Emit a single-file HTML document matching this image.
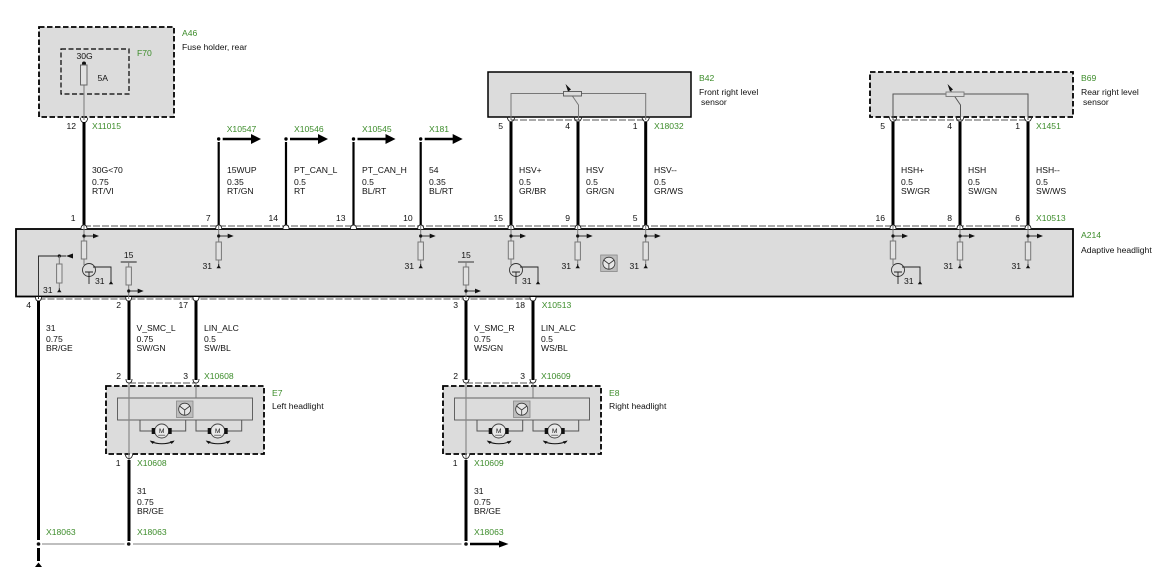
<!DOCTYPE html>
<html><head><meta charset="utf-8"><style>
html,body{margin:0;padding:0;background:#fff}
svg{display:block}
text{font-family:"Liberation Sans",Arial,sans-serif;font-size:8.6px;fill:#111}
.g{fill:#3c8c2a}
.e{text-anchor:end}
.m{text-anchor:middle}
.w{stroke:#000;stroke-width:3;fill:none}
.t{stroke:#777;stroke-width:1;fill:none}
.k{stroke:#222;stroke-width:.9;fill:none}
.d{stroke:#555;stroke-width:.9;stroke-dasharray:7 2;fill:none}
.bd{stroke:#000;stroke-width:1.8;stroke-dasharray:5.5 2.5;fill:#dcdcdc}
</style></head><body>
<svg width="1157" height="576" viewBox="0 0 1157 576" xmlns="http://www.w3.org/2000/svg">
<defs>
<g id="gnd"><path d="M0 -3V-1" stroke="#222" stroke-width=".9"/><path d="M-2.2 1.3L0 -2L2.2 1.3Z" fill="#111"/></g>
<g id="ar"><circle cx="0" cy="0" r="1.6" fill="#111"/><path d="M0 0H10" stroke="#222" stroke-width=".9"/><path d="M9 -2.4L15 0L9 2.4Z" fill="#111"/></g>
<path id="up" d="M-3 4Q-3 0 0 0Q3 0 3 4" fill="#fff" stroke="#222" stroke-width=".9"/>
<path id="dn" d="M-3 -3Q-3 1 0 1Q3 1 3 -3" fill="#fff" stroke="#222" stroke-width=".9"/>
<path id="y" d="M-3.8 -3.5Q-3.5 1 0 1.8Q3.5 1 3.8 -3.5" fill="none" stroke="#222" stroke-width=".9"/>
<g id="r31">
<path d="M0 226V242M0 260V266" class="t"/><use href="#ar" y="236"/>
<rect x="-2.7" y="242" width="5.4" height="18" fill="#e2e2e2" stroke="#777" stroke-width="1"/>
<use href="#gnd" y="267"/>
</g>
<g id="tr">
<path d="M0 226V241M0 259V265" class="t"/><use href="#ar" y="236"/>
<rect x="-2.7" y="241" width="5.4" height="18" fill="#e2e2e2" stroke="#777" stroke-width="1"/>
<circle cx="5" cy="270" r="6.5" fill="none" stroke="#333" stroke-width=".9"/>
<path d="M5 272V284M1 272H9M9 267H27V281" class="k"/>
<use href="#gnd" x="27" y="283"/>
</g>
<g id="r15">
<path d="M-8 262H8" class="k"/><path d="M0 262V267M0 285V299" class="t"/>
<rect x="-2.7" y="267" width="5.4" height="18" fill="#e2e2e2" stroke="#777" stroke-width="1"/>
<use href="#ar" y="291"/>
</g>
<g id="ico">
<rect x="0" y="0" width="16.5" height="16.5" fill="#bdbdbd" stroke="#888" stroke-width=".8"/>
<circle cx="8.2" cy="8.2" r="6" fill="#e6e6e6" stroke="#333" stroke-width=".8"/>
<path d="M3 5L8.2 9L13.5 5M8.2 9V14" stroke="#333" stroke-width=".8" fill="none"/>
</g>
<g id="mot">
<circle cx="0" cy="0" r="7" fill="#e8e8e8" stroke="#444" stroke-width=".9"/>
<rect x="-10" y="-3" width="3.4" height="6" fill="#111"/><rect x="6.6" y="-3" width="3.4" height="6" fill="#111"/>
<text x="0" y="2.2" text-anchor="middle" style="font-size:6.5px">M</text>
<path d="M-3.5 4.2H3.5" stroke="#444" stroke-width=".7"/>
<path d="M-11 10.5Q0 15 12 10.5" fill="none" stroke="#111" stroke-width="1"/>
<path d="M-12 9.5L-7 10.5L-9 13Z" fill="#111"/><path d="M13 9.5L8 10.5L10 13Z" fill="#111"/>
</g>
<g id="hl">
<rect x="106" y="386" width="158" height="68" class="bd"/>
<rect x="117.5" y="398" width="135" height="22" fill="#dcdcdc" stroke="#555" stroke-width=".9"/>
<use href="#ico" x="176.5" y="401"/>
<path d="M129 383V472" stroke="#888" stroke-width="1.2" fill="none"/>
<path d="M196 383V398" class="t"/>
<path d="M140 420V431H152M171 431H185.7V420" class="t" style="stroke:#555"/>
<path d="M196 420V431H208M227 431H241.7V420" class="t" style="stroke:#555"/>
<use href="#mot" x="161.7" y="431"/><use href="#mot" x="217.7" y="431"/>
<path d="M129 383H196" class="d"/>
<use href="#dn" x="129" y="382"/><use href="#dn" x="196" y="382"/>
<use href="#y" x="129" y="457"/>
<path d="M129 301V380M196 301V380M129 460V541" class="w"/>
</g>
</defs>

<!-- A46 -->
<rect x="39" y="27" width="135" height="90" class="bd"/>
<rect x="61" y="49" width="68" height="45" fill="none" stroke="#000" stroke-width="1.2" stroke-dasharray="5 2.5"/>
<circle cx="84" cy="63.5" r="2" fill="#111"/>
<path d="M84 65V120" stroke="#888" stroke-width="1.2"/>
<rect x="80.5" y="65" width="6.5" height="20" fill="#e2e2e2" stroke="#666" stroke-width="1"/>
<use href="#y" x="84" y="121"/>
<text x="182" y="36" class="g">A46</text><text x="182" y="50">Fuse holder, rear</text>
<text x="137" y="56" class="g">F70</text><text x="76.5" y="59">30G</text><text x="97.5" y="81">5A</text>
<text x="76" y="129" class="e">12</text><text x="92" y="129" class="g">X11015</text>

<!-- B42 -->
<rect x="488" y="72" width="203" height="45" fill="#dcdcdc" stroke="#000" stroke-width="1.5"/>
<path d="M511 120V93.5H563M581.5 93.5H645.7V120M578.5 120V105L569 91" class="t"/>
<rect x="563.5" y="91.5" width="18" height="4.5" fill="#dcdcdc" stroke="#555" stroke-width=".9"/>
<path d="M565.5 84L571 89.5L568 91.5Z" fill="#111"/>
<path d="M511 120H645.7" class="d"/>
<use href="#y" x="511" y="120"/><use href="#y" x="578" y="120"/><use href="#y" x="645.7" y="120"/>
<text x="699" y="81" class="g">B42</text><text x="699" y="95">Front right level</text><text x="701" y="105">sensor</text>
<text x="503" y="129" class="e">5</text><text x="570" y="129" class="e">4</text><text x="637.5" y="129" class="e">1</text>
<text x="654" y="129" class="g">X18032</text>

<!-- B69 -->
<rect x="870" y="72" width="203" height="45" class="bd"/>
<path d="M893 120V94H946M964 94H1028V120M960.5 120V105L951 91" class="t" style="stroke:#555"/>
<rect x="946" y="92" width="18" height="4.5" fill="#dcdcdc" stroke="#777" stroke-width=".9"/>
<path d="M947.5 84L953 89.5L950 91.5Z" fill="#111"/>
<path d="M893 120H1028" class="d"/>
<use href="#y" x="893" y="120"/><use href="#y" x="960" y="120"/><use href="#y" x="1028" y="120"/>
<text x="1081" y="81" class="g">B69</text><text x="1081" y="95">Rear right level</text><text x="1083" y="105">sensor</text>
<text x="885" y="129" class="e">5</text><text x="952" y="129" class="e">4</text><text x="1020" y="129" class="e">1</text>
<text x="1036" y="129" class="g">X1451</text>

<!-- top wires -->
<path d="M84 122V225M511 122V225M578 122V225M645.7 122V225M893 122V225M960 122V225M1028 122V225" class="w"/>
<path d="M218.7 142V225M286 142V225M353.5 142V225M420.7 142V225" class="w" style="stroke-width:2.2"/>
<g fill="#000">
<circle cx="218.7" cy="139" r="1.7"/><path d="M222.7 139H252" stroke="#000" stroke-width="2.6"/><path d="M251 134L261 139L251 144Z"/>
<circle cx="286" cy="139" r="1.7"/><path d="M290 139H319" stroke="#000" stroke-width="2.6"/><path d="M318 134L328 139L318 144Z"/>
<circle cx="353.5" cy="139" r="1.7"/><path d="M357.5 139H386.5" stroke="#000" stroke-width="2.6"/><path d="M385.5 134L395.5 139L385.5 144Z"/>
<circle cx="420.7" cy="139" r="1.7"/><path d="M424.7 139H453.7" stroke="#000" stroke-width="2.6"/><path d="M452.7 134L462.7 139L452.7 144Z"/>
</g>
<text x="226.7" y="132" class="g">X10547</text><text x="294" y="132" class="g">X10546</text><text x="362" y="132" class="g">X10545</text><text x="429" y="132" class="g">X181</text>

<!-- wire labels top -->
<text x="92" y="173">30G&lt;70</text><text x="92" y="185">0.75</text><text x="92" y="194">RT/VI</text>
<text x="227" y="173">15WUP</text><text x="227" y="185">0.35</text><text x="227" y="194">RT/GN</text>
<text x="294" y="173">PT_CAN_L</text><text x="294" y="185">0.5</text><text x="294" y="194">RT</text>
<text x="362" y="173">PT_CAN_H</text><text x="362" y="185">0.5</text><text x="362" y="194">BL/RT</text>
<text x="429" y="173">54</text><text x="429" y="185">0.35</text><text x="429" y="194">BL/RT</text>
<text x="519" y="173">HSV+</text><text x="519" y="185">0.5</text><text x="519" y="194">GR/BR</text>
<text x="586" y="173">HSV</text><text x="586" y="185">0.5</text><text x="586" y="194">GR/GN</text>
<text x="654" y="173">HSV--</text><text x="654" y="185">0.5</text><text x="654" y="194">GR/WS</text>
<text x="901" y="173">HSH+</text><text x="901" y="185">0.5</text><text x="901" y="194">SW/GR</text>
<text x="968" y="173">HSH</text><text x="968" y="185">0.5</text><text x="968" y="194">SW/GN</text>
<text x="1036" y="173">HSH--</text><text x="1036" y="185">0.5</text><text x="1036" y="194">SW/WS</text>

<!-- A214 -->
<rect x="16" y="229" width="1057" height="67.5" fill="#dcdcdc" stroke="#000" stroke-width="1.8"/>
<path d="M84 226H1028" class="d"/><path d="M38.5 299H533" class="d"/>
<use href="#up" x="84" y="225"/><use href="#up" x="218.7" y="225"/><use href="#up" x="286" y="225"/><use href="#up" x="353.5" y="225"/><use href="#up" x="420.7" y="225"/><use href="#up" x="511" y="225"/><use href="#up" x="578" y="225"/><use href="#up" x="645.7" y="225"/><use href="#up" x="893" y="225"/><use href="#up" x="960" y="225"/><use href="#up" x="1028" y="225"/>
<use href="#dn" x="38.5" y="300"/><use href="#dn" x="128.7" y="300"/><use href="#dn" x="196" y="300"/><use href="#dn" x="466" y="300"/><use href="#dn" x="533" y="300"/>
<g>
<text x="75.5" y="221" class="e">1</text><text x="210.7" y="221" class="e">7</text><text x="278" y="221" class="e">14</text><text x="345.5" y="221" class="e">13</text><text x="412.7" y="221" class="e">10</text><text x="503" y="221" class="e">15</text><text x="570" y="221" class="e">9</text><text x="637.5" y="221" class="e">5</text><text x="885" y="221" class="e">16</text><text x="952" y="221" class="e">8</text><text x="1020" y="221" class="e">6</text>
<text x="1036" y="221" class="g">X10513</text>
<text x="1081" y="238" class="g">A214</text><text x="1081" y="253">Adaptive headlight</text>
<text x="31" y="308" class="e">4</text><text x="121" y="308" class="e">2</text><text x="188" y="308" class="e">17</text><text x="458" y="308" class="e">3</text><text x="525" y="308" class="e">18</text>
<text x="541.7" y="308" class="g">X10513</text>
</g>
<!-- inside A214 -->
<path d="M38.5 299V256H66" class="k"/><circle cx="59.3" cy="256" r="1.6" fill="#111"/><path d="M66 256L73 253.5V258.5Z" fill="#111"/>
<path d="M59.3 256V264M59.3 283V288" class="t"/><rect x="56.6" y="264" width="5.4" height="19" fill="#e2e2e2" stroke="#777"/>
<use href="#gnd" x="59.3" y="291"/><text x="43" y="293">31</text>
<use href="#tr" x="84"/><text x="95" y="284">31</text>
<use href="#r15" x="128.7"/><text x="128.7" y="258" class="m">15</text>
<use href="#r31" x="218.7"/><text x="212" y="269" class="e">31</text>
<use href="#r31" x="420.7"/><text x="414" y="269" class="e">31</text>
<use href="#r15" x="466"/><text x="466" y="258" class="m">15</text>
<use href="#tr" x="511"/><text x="522" y="284">31</text>
<use href="#r31" x="577.7"/><text x="571" y="269" class="e">31</text>
<use href="#ico" x="600.7" y="255"/>
<use href="#r31" x="645.7"/><text x="639" y="269" class="e">31</text>
<use href="#tr" x="893"/><text x="904" y="284">31</text>
<use href="#r31" x="960"/><text x="953" y="269" class="e">31</text>
<use href="#r31" x="1028"/><text x="1021" y="269" class="e">31</text>

<!-- lower wires -->
<path d="M38.5 301V540M38.5 548V561" class="w"/>
<text x="46" y="331">31</text><text x="46" y="342">0.75</text><text x="46" y="351">BR/GE</text>
<text x="136.5" y="331">V_SMC_L</text><text x="136.5" y="342">0.75</text><text x="136.5" y="351">SW/GN</text>
<text x="204" y="331">LIN_ALC</text><text x="204" y="342">0.5</text><text x="204" y="351">SW/BL</text>
<text x="474" y="331">V_SMC_R</text><text x="474" y="342">0.75</text><text x="474" y="351">WS/GN</text>
<text x="541" y="331">LIN_ALC</text><text x="541" y="342">0.5</text><text x="541" y="351">WS/BL</text>

<!-- E7 / E8 -->
<use href="#hl"/>
<use href="#hl" x="337"/>
<text x="121" y="379" class="e">2</text><text x="188" y="379" class="e">3</text><text x="204" y="379" class="g">X10608</text>
<text x="272" y="396" class="g">E7</text><text x="272" y="409">Left headlight</text>
<text x="120.5" y="466" class="e">1</text><text x="137" y="466" class="g">X10608</text>
<text x="458" y="379" class="e">2</text><text x="525" y="379" class="e">3</text><text x="541" y="379" class="g">X10609</text>
<text x="609" y="396" class="g">E8</text><text x="609" y="409">Right headlight</text>
<text x="457.5" y="466" class="e">1</text><text x="474" y="466" class="g">X10609</text>
<text x="137" y="494">31</text><text x="137" y="505">0.75</text><text x="137" y="514">BR/GE</text>
<text x="474" y="494">31</text><text x="474" y="505">0.75</text><text x="474" y="514">BR/GE</text>

<!-- bottom bus -->
<path d="M42 544H124.5M133 544H461.5" stroke="#999" stroke-width="1.2"/>
<circle cx="38.5" cy="544" r="1.8" fill="#111"/><circle cx="128.7" cy="544" r="1.8" fill="#111"/><circle cx="466" cy="544" r="1.8" fill="#111"/>
<path d="M470 544H500" stroke="#000" stroke-width="2.6"/><path d="M499 540.5L508.5 544L499 547.5Z" fill="#000"/>
<path d="M35 567L38.5 562.5L42 567Z" fill="#000"/>
<text x="46" y="535" class="g">X18063</text><text x="137" y="535" class="g">X18063</text><text x="474" y="535" class="g">X18063</text>
</svg>
</body></html>
